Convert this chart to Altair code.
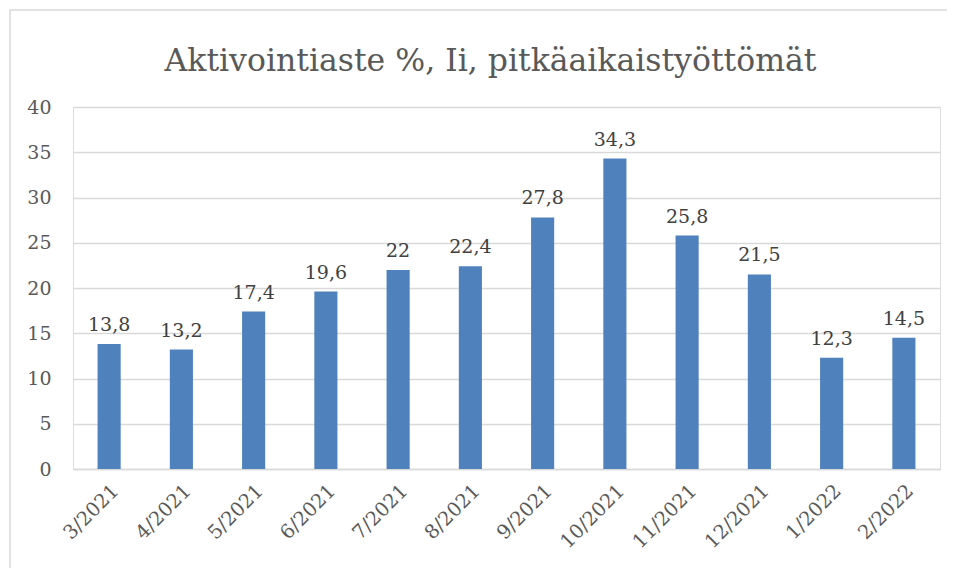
import altair as alt
import pandas as pd

months = ["3/2021", "4/2021", "5/2021", "6/2021", "7/2021", "8/2021",
          "9/2021", "10/2021", "11/2021", "12/2021", "1/2022", "2/2022"]
values = [13.8, 13.2, 17.4, 19.6, 22, 22.4, 27.8, 34.3, 25.8, 21.5, 12.3, 14.5]

df = pd.DataFrame({"kk": months, "v": values})

FONT = "DejaVu Serif"
W, H = 867, 362
PL, PT, PR, PB = 65, 99, 7, 99

x = alt.X("kk:N", sort=months, title=None,
          scale=alt.Scale(paddingInner=0.68, paddingOuter=0.34),
          axis=alt.Axis(labelAngle=-45, labelFontSize=19.5, labelColor="#595959",
                        labelFont=FONT, ticks=False, domainColor="#d9d9d9",
                        domainWidth=1.5, labelPadding=12))
y = alt.Y("v:Q", title=None,
          scale=alt.Scale(domain=[0, 40]),
          axis=alt.Axis(values=list(range(0, 41, 5)), labelFontSize=19,
                        labelColor="#595959", labelFont=FONT, ticks=False,
                        domain=False, gridColor="#d9d9d9", gridWidth=1.5,
                        labelPadding=22))

base = alt.Chart(df)
bars = base.mark_bar(color="#4F81BD").encode(x=x, y=y)
labels = base.transform_calculate(
    lab="replace(toString(datum.v), '.', ',')"
).mark_text(baseline="bottom", dy=-9, fontSize=19, font=FONT, color="#404040").encode(
    x=alt.X("kk:N", sort=months), y="v:Q", text="lab:N")

border = alt.Chart(pd.DataFrame({"a": [0]})).mark_rect(
    fill=None, stroke="#d9d9d9", strokeWidth=1.5, clip=False
).encode(x=alt.value(-63), x2=alt.value(W + 80), y=alt.value(-97), y2=alt.value(H + 200))

chart = alt.layer(border, bars, labels).properties(
    width=W, height=H,
    title=alt.TitleParams("Aktivointiaste %, Ii, pitkäaikaistyöttömät",
                          font=FONT, fontSize=31.5, fontWeight="normal",
                          color="#595959", anchor="middle", offset=-68, dx=-16),
    autosize=alt.AutoSizeParams(type="none"),
    padding={"left": PL, "top": PT, "right": PR, "bottom": PB},
).configure_view(stroke=None).configure(background="white")

chart.save("out.html", embed_options={"renderer": "svg", "actions": False})
